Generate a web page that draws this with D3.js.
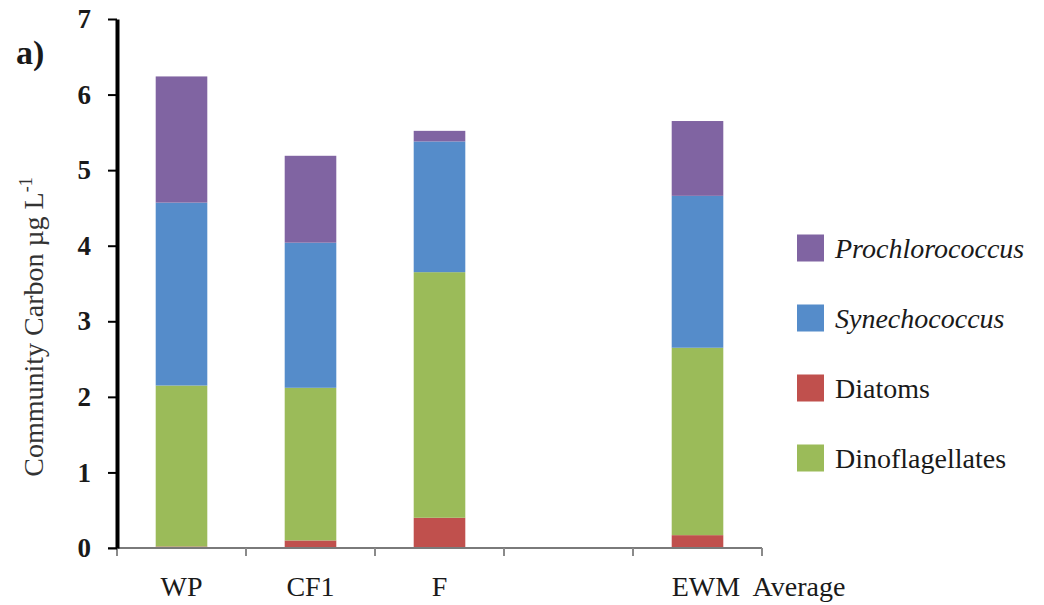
<!DOCTYPE html>
<html>
<head>
<meta charset="utf-8">
<script src="https://cdn.jsdelivr.net/npm/d3@7"></script>
<style>
  html, body { margin: 0; padding: 0; background: #fff; }
  svg { display: block; }
  svg text { font-family: "Times New Roman", Times, "Liberation Serif", "DejaVu Serif", serif; }
</style>
</head>
<body>
<svg id="chart" width="1044" height="605"></svg>
<script>
// Axis slots along x (one empty slot separates the sites from the average)
const slots = ["WP", "CF1", "F", "", "EWM  Average"];
const sites = ["WP", "CF1", "F", "EWM  Average"];

// Community carbon (µg L-1) by group, one value per site
const diatoms         = [0.02, 0.10, 0.40, 0.17];
const dinoflagellates = [2.13, 2.02, 3.25, 2.48];
const synechococcus   = [2.42, 1.92, 1.73, 2.01];
const prochlorococcus = [1.67, 1.15, 0.14, 0.99];

const yTicks = [0, 1, 2, 3, 4, 5, 6, 7];

// Stack order bottom -> top, legend order top -> bottom
const stackKeys  = ["Diatoms", "Dinoflagellates", "Synechococcus", "Prochlorococcus"];
const legendKeys = ["Prochlorococcus", "Synechococcus", "Diatoms", "Dinoflagellates"];
const italicKeys = new Set(["Prochlorococcus", "Synechococcus"]);
const colors = {
  Prochlorococcus: "#8064A2",
  Synechococcus:   "#558CCA",
  Diatoms:         "#C0504D",
  Dinoflagellates: "#9BBB59"
};

const rows = sites.map((s, i) => ({
  site: s,
  Diatoms: diatoms[i],
  Dinoflagellates: dinoflagellates[i],
  Synechococcus: synechococcus[i],
  Prochlorococcus: prochlorococcus[i]
}));

const svg = d3.select("#chart");
const plotLeft = 117, plotRight = 762, plotTop = 19, plotBottom = 548;

const x = d3.scaleBand().domain(slots).range([plotLeft, plotRight]).padding(0);
const y = d3.scaleLinear().domain([0, 7]).range([plotBottom, plotTop]);
const barW = x.bandwidth() * 0.4;

// Stacked bars
const stacked = d3.stack().keys(stackKeys)(rows);
svg.append("g").selectAll("g")
  .data(stacked)
  .join("g")
  .attr("fill", d => colors[d.key])
  .selectAll("rect")
  .data(d => d)
  .join("rect")
  .attr("x", d => x(d.data.site) + (x.bandwidth() - barW) / 2)
  .attr("width", barW)
  .attr("y", d => y(d[1]))
  .attr("height", d => y(d[0]) - y(d[1]));

// X axis: labels centred on slots, ticks on slot boundaries
const xAxis = svg.append("g")
  .attr("transform", `translate(0,${plotBottom})`)
  .call(d3.axisBottom(x).tickSize(0).tickPadding(28));
xAxis.attr("font-family", null);
xAxis.select(".domain").attr("stroke", "#7a7a7a").attr("stroke-width", 2)
  .attr("d", `M${plotLeft - 9},0H${plotRight}`);
xAxis.selectAll(".tick text")
  .attr("font-size", 28)
  .attr("fill", "#1a1a1a")
  .style("white-space", "pre");
xAxis.selectAll(".tick text")
  .filter(d => d === "EWM  Average")
  .attr("text-anchor", "start")
  .attr("x", -barW / 2);
const bounds = slots.map(s => x(s)).concat([plotRight]);
xAxis.selectAll("line.bound")
  .data(bounds)
  .join("line")
  .attr("class", "bound")
  .attr("x1", d => d).attr("x2", d => d)
  .attr("y1", 0).attr("y2", 8)
  .attr("stroke", "#8a8a8a").attr("stroke-width", 2);

// Y axis
const yAxis = svg.append("g")
  .attr("transform", `translate(${plotLeft},0)`)
  .call(d3.axisLeft(y).tickValues(yTicks).tickFormat(d3.format("d")).tickSize(9).tickSizeOuter(0).tickPadding(17));
yAxis.attr("font-family", null);
yAxis.select(".domain").attr("stroke", "#000").attr("stroke-width", 4);
yAxis.selectAll(".tick line").attr("stroke", "#000").attr("stroke-width", 2);
yAxis.selectAll(".tick text")
  .attr("font-size", 27)
  .attr("font-weight", "bold")
  .attr("fill", "#1a1a1a");

// Y axis title
const yTitle = svg.append("text")
  .attr("transform", `translate(43,327) rotate(-90)`)
  .attr("text-anchor", "middle")
  .attr("font-size", 28)
  .attr("fill", "#333");
yTitle.append("tspan").text("Community Carbon µg L");
yTitle.append("tspan").attr("font-size", 18).attr("dy", -11).text("-1");

// Panel label
svg.append("text")
  .attr("x", 16).attr("y", 64)
  .attr("font-size", 34)
  .attr("font-weight", "bold")
  .attr("fill", "#1a1a1a")
  .text("a)");

// Legend
const legend = svg.append("g").attr("transform", "translate(797,248)");
const item = legend.selectAll("g")
  .data(legendKeys)
  .join("g")
  .attr("transform", (d, i) => `translate(0,${i * 70})`);
item.append("rect")
  .attr("x", 0).attr("y", -13.5)
  .attr("width", 27).attr("height", 27)
  .attr("fill", d => colors[d]);
item.append("text")
  .attr("x", 38).attr("y", 10)
  .attr("font-size", 28)
  .attr("fill", "#1a1a1a")
  .attr("font-style", d => italicKeys.has(d) ? "italic" : "normal")
  .text(d => d);
</script>
</body>
</html>
